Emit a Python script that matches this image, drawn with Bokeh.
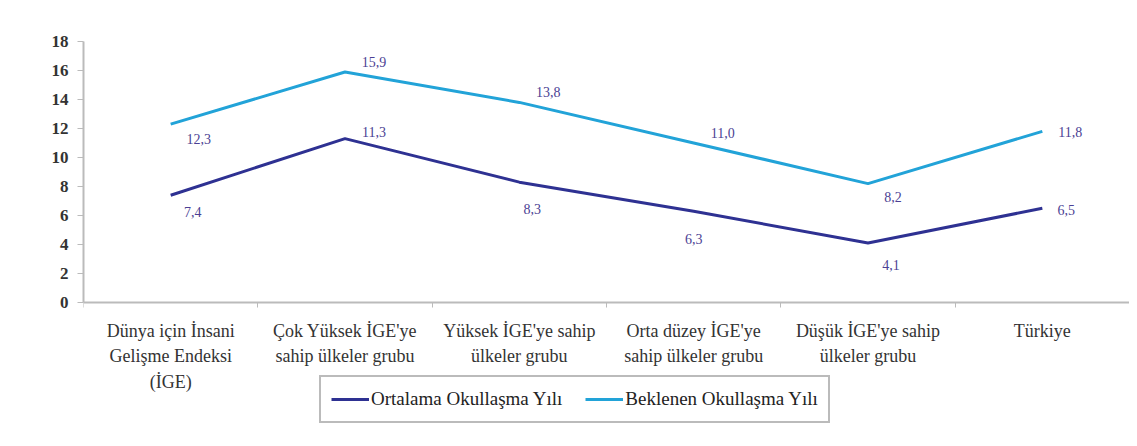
from bokeh.plotting import figure
from bokeh.models import (ColumnDataSource, FixedTicker, Legend, LegendItem, Range1d, LinearAxis)
from bokeh.core.properties import value
from bokeh.embed import file_html
from bokeh.resources import INLINE

categories = [
    "Dünya için İnsani\nGelişme Endeksi\n(İGE)",
    "Çok Yüksek İGE'ye\nsahip ülkeler grubu",
    "Yüksek İGE'ye sahip\nülkeler grubu",
    "Orta düzey İGE'ye\nsahip ülkeler grubu",
    "Düşük İGE'ye sahip\nülkeler grubu",
    "Türkiye",
]
ortalama = [7.4, 11.3, 8.3, 6.3, 4.1, 6.5]
beklenen = [12.3, 15.9, 13.8, 11.0, 8.2, 11.8]
y_ticks = [0, 2, 4, 6, 8, 10, 12, 14, 16, 18]

# label offsets (screen px) — style only
ort_dx = [22, 29, 13, 0, 23, 24]
ort_dy = [17, -7, 27, 28, 22, 2]
bek_dx = [28, 29, 29, 29, 25, 28]
bek_dy = [15, -10, -10, -10, 13, 1]

SERIF = "'Liberation Serif'"
DARK = "#2E3192"
LIGHT = "#22A3D8"
LABEL_COL = "#4B3F94"

xs = [i + 0.5 for i in range(len(categories))]

H = 438
TOP = 41
ZERO_PX = 302
px_per_unit = (ZERO_PX - TOP) / 18.0
y_start = -(H - ZERO_PX) / px_per_unit

p = figure(width=1129, height=H, output_backend="svg", toolbar_location=None,
           x_range=Range1d(0, len(categories)), y_range=Range1d(y_start, 18),
           x_axis_location=None,
           min_border_left=83, min_border_right=0, min_border_top=TOP, min_border_bottom=0)
p.outline_line_color = None
p.grid.grid_line_color = None
p.background_fill_color = "white"
p.border_fill_color = "white"

src_o = ColumnDataSource(dict(x=xs, y=ortalama, t=[f"{v:.1f}".replace(".", ",") for v in ortalama],
                              dx=ort_dx, dy=ort_dy))
src_b = ColumnDataSource(dict(x=xs, y=beklenen, t=[f"{v:.1f}".replace(".", ",") for v in beklenen],
                              dx=bek_dx, dy=bek_dy))

r_o = p.line("x", "y", source=src_o, line_color=DARK, line_width=3)
r_b = p.line("x", "y", source=src_b, line_color=LIGHT, line_width=3)

for s in (src_o, src_b):
    p.text("x", "y", text="t", source=s, x_offset="dx", y_offset="dy",
           text_font=value(SERIF), text_font_size="14px", text_color=LABEL_COL,
           text_align="center", text_baseline="middle")

# x axis, pinned at y = 0
xa = LinearAxis(fixed_location=0)
xa.ticker = FixedTicker(ticks=xs, minor_ticks=list(range(len(categories) + 1)))
xa.major_label_overrides = {x: c for x, c in zip(xs, categories)}
xa.major_tick_out = 0
xa.major_tick_in = 0
xa.minor_tick_out = 5
xa.minor_tick_in = 0
xa.minor_tick_line_color = "#BBBBBB"
xa.axis_line_color = "#BBBBBB"
xa.axis_line_width = 2
xa.major_label_text_font = SERIF
xa.major_label_text_font_size = "18px"
xa.major_label_text_color = "#333333"
xa.major_label_text_line_height = 1.28
xa.major_label_standoff = 13
p.add_layout(xa, "below")

ya = p.yaxis[0]
ya.ticker = FixedTicker(ticks=y_ticks)
ya.bounds = (0, 18)
ya.axis_line_color = "#BBBBBB"
ya.axis_line_width = 2
ya.major_tick_line_color = "#BBBBBB"
ya.major_tick_out = 6
ya.major_tick_in = 0
ya.minor_tick_line_color = None
ya.major_label_text_font = SERIF
ya.major_label_text_font_size = "17px"
ya.major_label_text_font_style = "bold"
ya.major_label_text_color = "#333333"
ya.major_label_standoff = 9

legend = Legend(items=[LegendItem(label="Ortalama Okullaşma Yılı", renderers=[r_o]),
                       LegendItem(label="Beklenen Okullaşma Yılı", renderers=[r_b])],
                orientation="horizontal", location=(236, H - 423),
                border_line_color="#777777", border_line_width=2,
                label_text_font=SERIF, label_text_font_size="19px", label_text_color="#222222",
                glyph_width=38, label_standoff=2, spacing=23, padding=10, margin=0,
                label_height=24, background_fill_color="white")
p.add_layout(legend, "center")

open("out.html", "w").write(file_html(p, INLINE))
